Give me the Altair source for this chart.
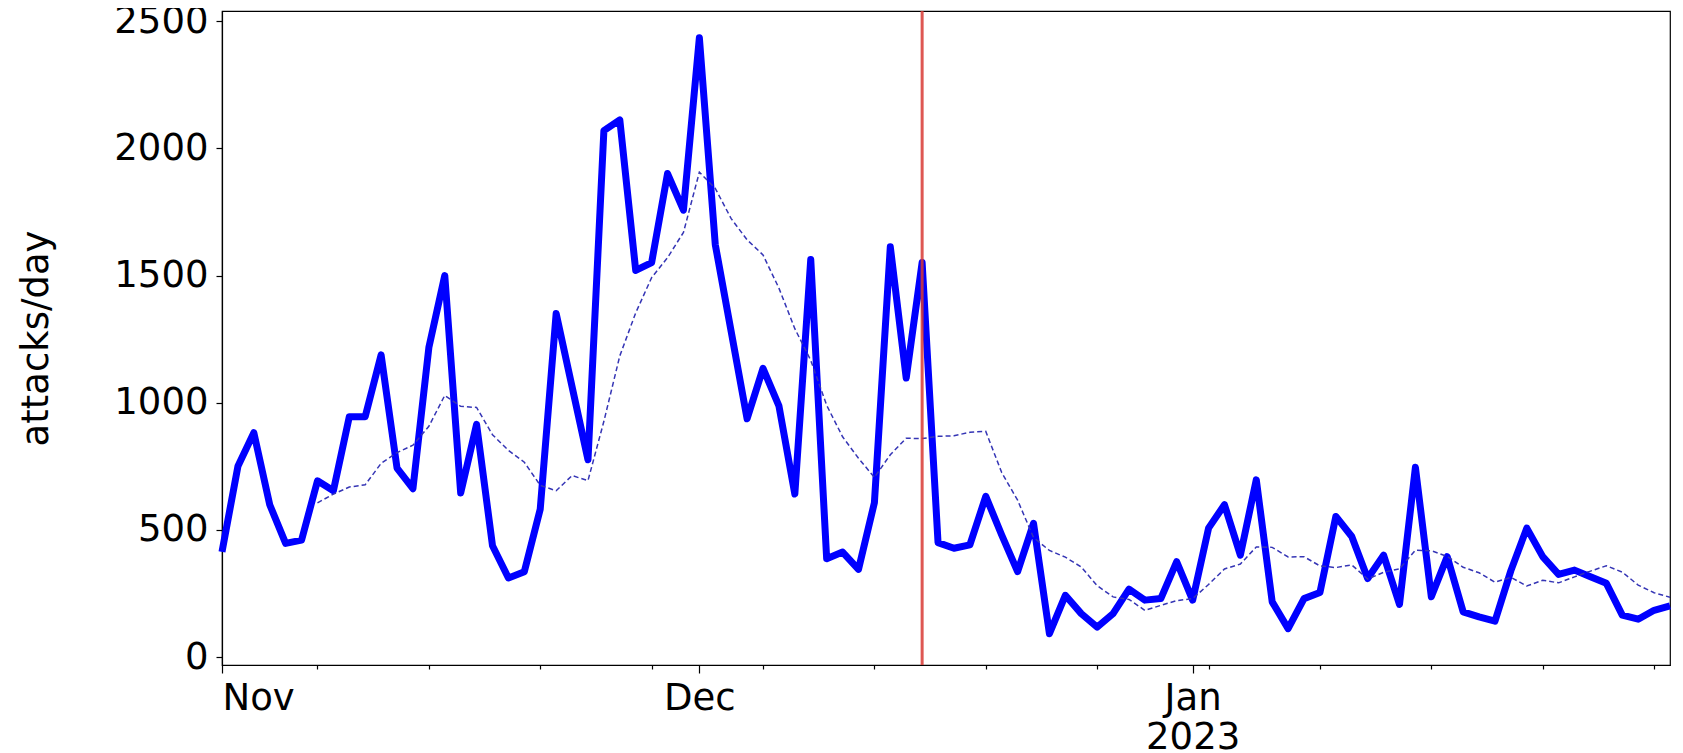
import altair as alt
import pandas as pd

start_date = "2022-11-01"
attacks = [414, 750, 882, 599, 447, 460, 693, 654, 945, 945,
           1188, 743, 662, 1217, 1500, 645, 915, 438, 311, 336,
           582, 1351, 1063, 776, 2070, 2112, 1520, 1551, 1901, 1757,
           2435, 1622, 1280, 937, 1135, 988, 641, 1563, 387, 413,
           345, 607, 1613, 1097, 1551, 450, 428, 441, 632, 480,
           336, 526, 92, 243, 171, 118, 171, 267, 224, 230,
           375, 224, 507, 599, 401, 697, 217, 112, 230, 254,
           553, 474, 309, 401, 207, 746, 237, 395, 178, 158,
           141, 340, 507, 395, 325, 342, 316, 290, 165, 149,
           184, 201]
event_date = ["2022-12-15"]
y_ticks = [0, 500, 1000, 1500, 2000, 2500]
major_ticks = ["2022-11-01", "2022-12-01", "2023-01-01"]
minor_ticks = ["2022-11-07", "2022-11-14", "2022-11-21", "2022-11-28",
               "2022-12-05", "2022-12-12", "2022-12-19", "2022-12-26",
               "2023-01-02", "2023-01-09", "2023-01-16", "2023-01-23",
               "2023-01-30"]
x_range = ["2022-11-01", "2023-01-31"]
y_range = [-31, 2540]

dates = pd.date_range(start_date, periods=len(attacks), freq="D").strftime("%Y-%m-%d")
df = pd.DataFrame({"date": list(dates), "attacks": attacks})


def dt(s):
    y, m, d = map(int, s.split("-"))
    return alt.DateTime(year=y, month=m, date=d, utc=True)


FONT = "DejaVu Sans"
FS = 37

x_axis = alt.Axis(
    values=[dt(s) for s in major_ticks + minor_ticks],
    labelExpr="utcdate(datum.value) != 1 ? '' : (utcmonth(datum.value) == 0 ? "
              "[utcFormat(datum.value, '%b'), utcFormat(datum.value, '%Y')] : utcFormat(datum.value, '%b'))",
    tickSize={"condition": {"test": "utcdate(datum.value) == 1", "value": 8}, "value": 4},
    labelOverlap=False,
    labelFont=FONT,
    labelFontSize=FS,
    labelLineHeight=39,
    labelPadding=7,
    labelColor="black",
    tickColor="black",
    tickWidth=1.2,
    domainColor="black",
    domainWidth=1.2,
    grid=False,
    title=None,
)
x_enc = alt.X("date:T", scale=alt.Scale(type="utc", domain=[dt(s) for s in x_range], nice=False),
              axis=x_axis)

y_axis = alt.Axis(
    values=y_ticks,
    format="d",
    tickSize=6,
    tickColor="black",
    tickWidth=1.2,
    domainColor="black",
    domainWidth=1.2,
    labelFont=FONT,
    labelFontSize=FS,
    labelColor="black",
    labelPadding=8,
    grid=False,
    title="attacks/day",
    titleFont=FONT,
    titleFontSize=FS,
    titleFontWeight="normal",
    titleColor="black",
    titlePadding=58,
)
y_scale = alt.Scale(domain=y_range, nice=False, zero=False)

base = alt.Chart(df)

solid = base.mark_line(color="#0000ff", strokeWidth=7, strokeJoin="round").encode(
    x=x_enc, y=alt.Y("attacks:Q", scale=y_scale, axis=y_axis)
)

dashed = base.transform_window(
    avg="mean(attacks)", n="count()", frame=[-6, 0], sort=[alt.SortField("date")]
).transform_filter("datum.n == 7").mark_line(
    color="#3535b5", strokeWidth=1.5, strokeDash=[5, 3]
).encode(
    x=x_enc, y=alt.Y("avg:Q", scale=y_scale, axis=y_axis)
)

red = alt.Chart(pd.DataFrame({"date": event_date})).mark_rule(
    color="#d83a34", strokeWidth=3, opacity=0.85
).encode(x=x_enc)

chart = alt.layer(solid, dashed, red).properties(
    width=1448,
    height=654,
    autosize=alt.AutoSizeParams(type="none"),
    padding={"left": 214, "top": 3, "right": 5, "bottom": 88},
).configure(
    background="white", font=FONT
).configure_axis(
    labelFont=FONT, titleFont=FONT
).configure_view(
    stroke="black", strokeWidth=1.2
)

chart.save("out.html", embed_options={"renderer": "svg", "actions": False})
